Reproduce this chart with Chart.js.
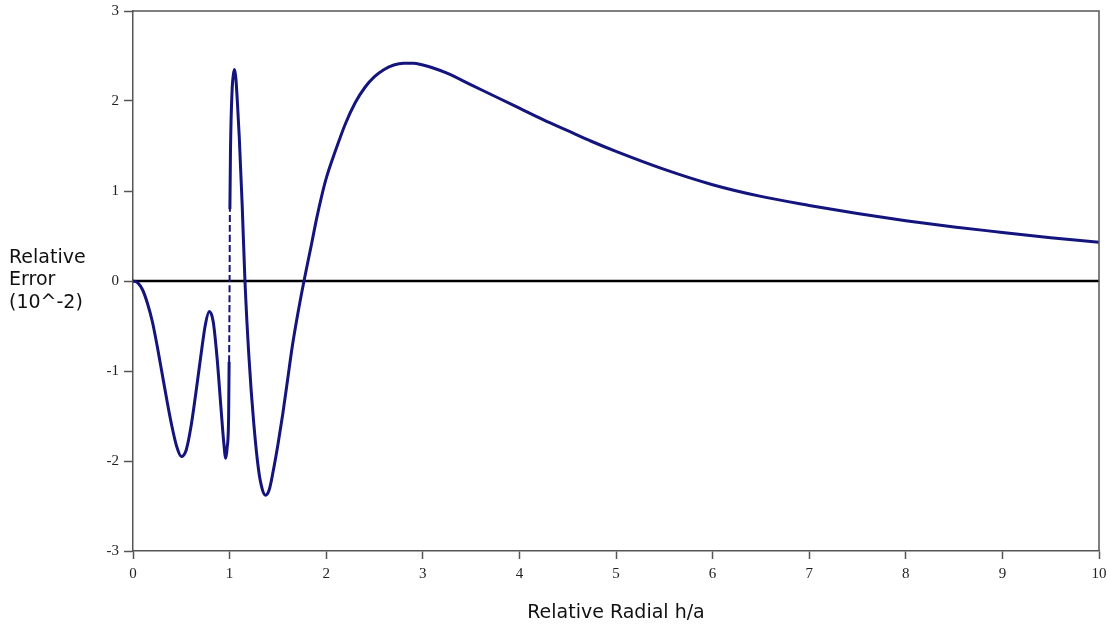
<!DOCTYPE html>
<html>
<head>
<meta charset="utf-8">
<title>Relative Error vs Relative Radial h/a</title>
<script src="https://cdn.jsdelivr.net/npm/chart.js@4.4.1/dist/chart.umd.min.js"></script>
<style>
  html, body { margin: 0; padding: 0; background: #fff; }
  #wrap { width: 1107px; height: 629px; }
</style>
</head>
<body>
<div id="wrap"><canvas id="c" width="1107" height="629"></canvas></div>
<script>
// Relative radial distance h/a
const radial = [
  0, 0.05, 0.10, 0.15, 0.20, 0.25, 0.30, 0.35, 0.40, 0.45, 0.50, 0.55, 0.60, 0.65, 0.70, 0.75, 0.79,
  0.83, 0.87, 0.91, 0.94, 0.96, 0.975, 0.99, 0.995, 1.0, 1.003, 1.01, 1.025, 1.04, 1.052,
  1.065, 1.08, 1.10, 1.13, 1.159, 1.20, 1.25, 1.30, 1.34, 1.373, 1.41, 1.45, 1.50, 1.55, 1.60, 1.65,
  1.70, 1.77, 1.85, 1.90, 1.95, 2.0, 2.1, 2.2, 2.3, 2.4, 2.5, 2.6, 2.7, 2.8, 2.9, 3.0, 3.1, 3.25,
  3.5, 3.75, 4.0, 4.25, 4.5, 4.75, 5.0, 5.5, 6.0, 6.5, 7.0, 7.5, 8.0, 8.5, 9.0, 9.5, 10.0
];
// Relative error, in units of 10^-2
const relError = [
  0, -0.02, -0.10, -0.25, -0.45, -0.72, -1.02, -1.32, -1.60, -1.83, -1.95, -1.88, -1.62, -1.25, -0.85, -0.48, -0.34,
  -0.45, -0.85, -1.40, -1.80, -1.97, -1.85, -1.5, -0.9, 0.0, 0.8, 1.5, 2.1, 2.3, 2.35,
  2.25, 2.0, 1.6, 0.85, 0.0, -0.84, -1.58, -2.10, -2.32, -2.38, -2.32, -2.12, -1.82, -1.48, -1.10, -0.72,
  -0.40, 0.0, 0.42, 0.69, 0.93, 1.14, 1.46, 1.75, 1.98, 2.15, 2.27, 2.35, 2.40, 2.42, 2.42, 2.40, 2.37, 2.31,
  2.18, 2.05, 1.92, 1.79, 1.67, 1.55, 1.44, 1.24, 1.07, 0.94, 0.84, 0.75, 0.67, 0.60, 0.54, 0.48, 0.43
];
// Zero reference line
const zeroLineX = [0, 10];
const zeroLineY = [0, 0];

const xTicks = [0, 1, 2, 3, 4, 5, 6, 7, 8, 9, 10];
const yTicks = [-3, -2, -1, 0, 1, 2, 3];

const yTitleLines = ['Relative', 'Error', '(10^-2)'];
const xTitle = 'Relative Radial h/a';

const curve = radial.map((x, i) => ({ x, y: relError[i] }));
const zero = zeroLineX.map((x, i) => ({ x, y: zeroLineY[i] }));

const titleFont = '19px "DejaVu Sans", Verdana, sans-serif';
const tickFont = { family: '"Liberation Serif", "Times New Roman", serif', size: 15 };

// Frame around the plot plus the two axis titles
const framePlugin = {
  id: 'frameAndTitles',
  afterDraw(chart) {
    const { ctx, chartArea: a } = chart;
    ctx.save();
    ctx.strokeStyle = '#555';
    ctx.lineWidth = 1.5;
    ctx.beginPath();
    ctx.moveTo(a.left, a.top);
    ctx.lineTo(a.right, a.top);
    ctx.lineTo(a.right, a.bottom);
    ctx.stroke();

    ctx.fillStyle = '#111';
    ctx.font = titleFont;
    ctx.textBaseline = 'middle';
    ctx.textAlign = 'left';
    const y0 = chart.scales.y.getPixelForValue(0);
    yTitleLines.forEach((t, i) => ctx.fillText(t, 9, y0 - 23 + i * 22.5));

    ctx.textAlign = 'center';
    ctx.fillText(xTitle, (a.left + a.right) / 2, 613);
    ctx.restore();
  }
};

const steep = ctx => {
  const dx = Math.abs(ctx.p1.parsed.x - ctx.p0.parsed.x);
  const dy = Math.abs(ctx.p1.parsed.y - ctx.p0.parsed.y);
  return dy / Math.max(dx, 1e-9) > 120;
};

new Chart(document.getElementById('c'), {
  type: 'scatter',
  data: {
    datasets: [
      {
        data: curve,
        showLine: true,
        borderColor: '#14147d',
        borderWidth: 3,
        pointRadius: 0,
        cubicInterpolationMode: 'monotone',
        order: 1,
        segment: {
          // the near-vertical jump at h/a = 1 is sparsely sampled
          borderDash: ctx => steep(ctx) ? [7, 3] : undefined,
          borderWidth: ctx => steep(ctx) ? 2 : undefined
        }
      },
      {
        data: zero,
        showLine: true,
        borderColor: '#000',
        borderWidth: 2.5,
        pointRadius: 0,
        order: 2
      }
    ]
  },
  options: {
    responsive: false,
    animation: false,
    layout: { padding: { left: 0, right: 8, top: 11, bottom: 0 } },
    plugins: { legend: { display: false }, tooltip: { enabled: false } },
    scales: {
      x: {
        type: 'linear',
        min: 0, max: 10,
        afterBuildTicks: s => { s.ticks = xTicks.map(v => ({ value: v })); },
        afterFit: s => { s.height = 78; s.paddingLeft = 0; s.paddingRight = 0; },
        border: { display: true, color: '#555', width: 1.5 },
        grid: { drawOnChartArea: false, drawTicks: true, tickLength: 8, color: '#555', tickWidth: 1.5 },
        ticks: { color: '#222', padding: 6, maxRotation: 0, font: tickFont }
      },
      y: {
        type: 'linear',
        min: -3, max: 3,
        afterBuildTicks: s => { s.ticks = yTicks.map(v => ({ value: v })); },
        afterFit: s => { s.width = 133; s.paddingTop = 0; s.paddingBottom = 0; },
        border: { display: true, color: '#555', width: 1.5 },
        grid: { drawOnChartArea: false, drawTicks: true, tickLength: 9, color: '#555', tickWidth: 1.5 },
        ticks: { color: '#222', padding: 5, font: tickFont }
      }
    }
  },
  plugins: [framePlugin]
});
</script>
</body>
</html>
